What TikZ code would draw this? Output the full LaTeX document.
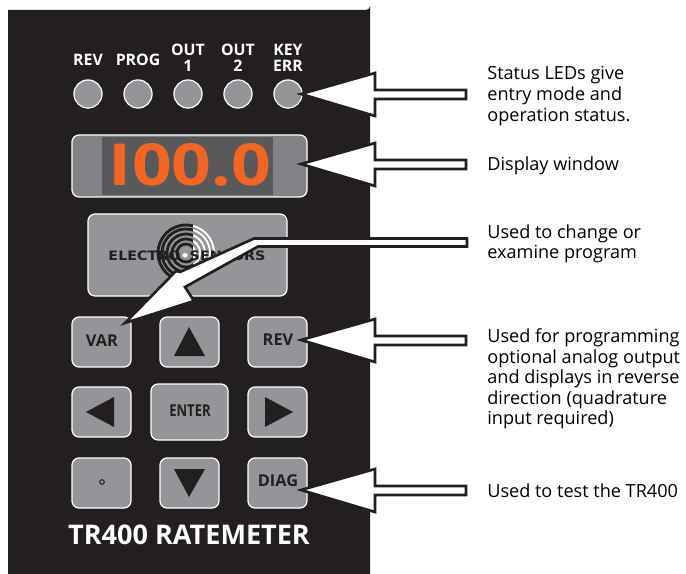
\documentclass[tikz,border=0pt]{standalone}
\usepackage{fontspec}
\setmainfont{Open Sans}
\newfontfamily\logofont{DejaVu Sans}
\definecolor{panel}{HTML}{231F20}
\definecolor{keygrey}{HTML}{939598}
\definecolor{windowgrey}{HTML}{808285}
\definecolor{lcdgrey}{HTML}{58595B}
\definecolor{digit}{HTML}{F26522}
\tikzset{
  key/.style={draw=white,fill=keygrey,line width=.7pt,rounded corners=4pt},
  led/.style={circle,draw=white,fill=keygrey,line width=.7pt,minimum size=16pt,inner sep=0},
  keytext/.style={text=panel,font=\fontsize{9.3}{9}\bfseries},
  ledtext/.style={text=white,font=\fontsize{9}{9.4}\bfseries,align=center},
  note/.style={anchor=west,inner sep=0,align=left,font=\fontsize{10.3}{11.7}\selectfont},
  callout/.style={draw=panel,fill=white,line width=1.5pt,line join=miter},
  keymark/.style={fill=panel}
}
\newcommand{\calloutarrow}[1]{
  \draw[callout] (#1) --++(74,-21) --++(0,17) --++(91,0) --++(0,9) --++(-91,0) --++(0,17) -- cycle;
}
\begin{document}
\begin{tikzpicture}[x=.02cm,y=-.02cm]
\useasboundingbox (0,0) rectangle (686,574);
\fill[panel] (8,10) -- (366,10) arc[start angle=90,end angle=0,radius=4] -- (370,574) -- (8,574) -- cycle;

% status leds
\foreach \x/\y/\name/\txt in {88/60/rev/REV,138/60/prog/PROG,188/58/outa/OUT\\1,238/58/outb/OUT\\2,288/58/keyerr/KEY\\ERR} {
  \node[led] (led\name) at (\x,94) {};
  \node[ledtext] (lab\name) at (\x,\y) {\txt};
}

% display window
\draw[key,fill=windowgrey] (72,135) rectangle (307,197);
\fill[lcdgrey] (102,137) rectangle (273,195);
\node[text=digit,font=\fontsize{33}{33}\bfseries] (reading) at (190,165) {\scalebox{1.2}[1]{I00.0}};

% logo plate
\draw[key] (88,214) rectangle (287,296);
\begin{scope}
  \clip (156,222) rectangle (193,284);
  \foreach \r in {9,14,19,24,28} {
    \draw[panel,line width=1.6pt] (186,253) circle (\r);
  }
\end{scope}
\begin{scope}
  \clip (193,222) rectangle (218,284);
  \foreach \r in {9,14,19,24,28} {
    \draw[white,line width=1.1pt] (186,253) circle (\r);
  }
\end{scope}
\node[text=panel,font=\logofont\fontsize{7.4}{8}\bfseries] (logo) at (187,256) {\scalebox{1.1}[1]{ELECTRO\textcolor{white}{•}SENSORS}};

% keypad
\foreach \x/\y/\w/\h/\name in {72/317/59/50/var,160/317/59/50/up,248/317/59/50/revkey,72/387/59/50/left,151/384/77/56/enter,248/387/59/50/right,72/458/59/50/dot,160/458/59/50/down,248/458/59/50/diag} {
  \draw[key] (\x,\y) rectangle ++(\w,\h);
}
\node[keytext] (varlab) at (102,341) {VAR};
\node[keytext] (revlab) at (278,340) {REV};
\node[keytext] (enterlab) at (190,411) {\scalebox{.8}[1]{ENTER}};
\node[keytext] (diaglab) at (278,481) {DIAG};
\fill[keymark] (189,327) -- (205,356) -- (174,356) -- cycle;
\fill[keymark] (86,412) -- (114,397) -- (114,427) -- cycle;
\fill[keymark] (293,412) -- (265,397) -- (265,427) -- cycle;
\fill[keymark] (189,497) -- (205,469) -- (174,469) -- cycle;
\draw[panel,line width=.6pt] (102,482) circle (2.3);
\node[text=white,font=\fontsize{15.4}{16}\bfseries] (title) at (189,535) {TR400 RATEMETER};

% callouts
\calloutarrow{301,94}
\calloutarrow{301,164}
\calloutarrow{301,340}
\calloutarrow{301,490}
\draw[callout] (125,323) -- (176,271) -- (180,272) -- (254,238.5) -- (467,238.5) -- (467,246.5) -- (258,246.5) -- (185,287) -- (194,301) -- cycle;

% notes
\node[note] (notestatus) at (487,96) {Status LEDs give\\entry mode and\\operation status.};
\node[note] (notedisplay) at (487,166) {Display window};
\node[note] (notevar) at (487,244) {Used to change or\\examine program};
\node[note] (noterev) at (487,379) {Used for programming\\optional analog output\\and displays in reverse\\direction (quadrature\\input required)};
\node[note] (notediag) at (487,491) {Used to test the TR400};
\end{tikzpicture}
\end{document}
